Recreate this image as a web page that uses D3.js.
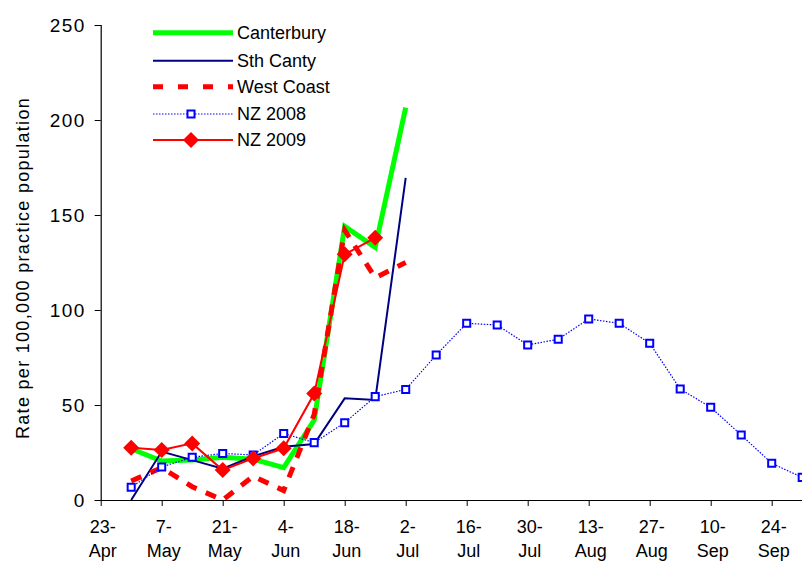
<!DOCTYPE html>
<html>
<head>
<meta charset="utf-8">
<script src="https://cdn.jsdelivr.net/npm/d3@7"></script>
<style>
  body { margin: 0; background: #fff; }
  text { font-family: "Liberation Sans", Arial, sans-serif; fill: #000; }
</style>
</head>
<body>
<div id="chart-area"></div>
<script>
// weekly dates, index 0 = 23-Apr
var weeks = ["23-Apr","30-Apr","7-May","14-May","21-May","28-May","4-Jun","11-Jun","18-Jun","25-Jun",
             "2-Jul","9-Jul","16-Jul","23-Jul","30-Jul","6-Aug","13-Aug","20-Aug","27-Aug","3-Sep",
             "10-Sep","17-Sep","24-Sep","1-Oct"];
var tickLabels = ["23-Apr","7-May","21-May","4-Jun","18-Jun","2-Jul","16-Jul","30-Jul","13-Aug","27-Aug","10-Sep","24-Sep"];
var yTicks = [0, 50, 100, 150, 200, 250];

// values start at 30-Apr
var canterbury = [27, 20.5, 21, 22.5, 21.5, 17, 42, 144, 133, 206.5];
var sthCanty   = [0, 25.5, 21, 16.5, 23, 28, 29.5, 53.5, 52.6, 169.5];
var westCoast  = [10, 17, 7, 0, 12.5, 5, 45, 142, 117, 125];
var nz2008     = [6.7, 17.4, 22.5, 24.5, 23.7, 35, 30.2, 40.7, 54.4, 58.2, 76.3, 93, 92.1, 81.6, 84.6, 95.3, 93, 82.5, 58.4, 48.8, 34.2, 19.3, 11.9];
var nz2009     = [27.5, 26.3, 29.8, 15.8, 21.9, 27.2, 56, 129.3, 138];

var margin = { left: 100.7, top: 25, right: 0, bottom: 61 };
var W = 802, H = 561;

var svg = d3.select("#chart-area")
    .append("svg")
    .attr("width", W)
    .attr("height", H);

var x = d3.scaleLinear().domain([0, 23]).range([margin.left, 802.2]);
var y = d3.scaleLinear().domain([0, 250]).range([H - margin.bottom, margin.top]);

// y axis
var yAxis = svg.append("g")
    .attr("transform", "translate(" + margin.left + ",0)")
    .call(d3.axisLeft(y).tickValues(yTicks).tickSize(6).tickPadding(9));
yAxis.select(".domain").attr("stroke", "#000").attr("stroke-width", 1.2);
yAxis.selectAll("text").style("font-size", "19px").style("letter-spacing", "1.4px").attr("dy", "0.35em");

// x axis
var xAxis = svg.append("g")
    .attr("transform", "translate(0," + y(0) + ")")
    .call(d3.axisBottom(x)
        .tickValues(tickLabels.map(function(t){ return weeks.indexOf(t); }))
        .tickSize(6)
        .tickFormat(""));
xAxis.select(".domain").attr("d", "M" + margin.left + ",0.5H" + W).attr("stroke", "#000").attr("stroke-width", 1.2);

tickLabels.forEach(function(t) {
    var parts = t.split("-");
    var cx = x(weeks.indexOf(t)) + 2;
    var lab = svg.append("text")
        .attr("text-anchor", "middle")
        .style("font-size", "18px");
    lab.append("tspan").attr("x", cx).attr("y", 533).text(parts[0] + "-");
    lab.append("tspan").attr("x", cx).attr("y", 557).text(parts[1]);
});

// y title
svg.append("text")
    .attr("transform", "translate(29,268) rotate(-90)")
    .attr("text-anchor", "middle")
    .style("font-size", "18px")
    .style("letter-spacing", "1.3px")
    .text("Rate per 100,000 practice population");

var line = d3.line()
    .x(function(d, i){ return x(i + 1); })
    .y(function(d){ return y(d); });

var series = [
    { name: "Canterbury", data: canterbury, color: "#00ff00", width: 5 },
    { name: "Sth Canty", data: sthCanty, color: "#000080", width: 2 },
    { name: "West Coast", data: westCoast, color: "#ff0000", width: 5, dash: "11,10" },
    { name: "NZ 2008", data: nz2008, color: "#0000ff", width: 1.2, dash: "1.5,1.5", marker: "square" },
    { name: "NZ 2009", data: nz2009, color: "#ff0000", width: 2, marker: "diamond" }
];

var sq = d3.symbol().type(d3.symbolSquare).size(50);
var dm = "M0,-8L8,0L0,8L-8,0Z";

series.forEach(function(s) {
    svg.append("path")
        .datum(s.data)
        .attr("d", line)
        .attr("fill", "none")
        .attr("stroke", s.color)
        .attr("stroke-width", s.width)
        .attr("stroke-dasharray", s.dash || null)
        .attr("stroke-linejoin", "miter");
    if (s.marker == "square") {
        svg.selectAll(".sq").data(s.data).enter()
            .append("path")
            .attr("d", sq)
            .attr("transform", function(d, i){ return "translate(" + x(i + 1) + "," + y(d) + ")"; })
            .attr("fill", "#fff")
            .attr("stroke", s.color)
            .attr("stroke-width", 2);
    }
    if (s.marker == "diamond") {
        svg.selectAll(".dm").data(s.data).enter()
            .append("path")
            .attr("d", dm)
            .attr("transform", function(d, i){ return "translate(" + x(i + 1) + "," + y(d) + ")"; })
            .attr("fill", s.color);
    }
});

// legend
var legY = [32.7, 60.7, 86.7, 114, 140];
series.forEach(function(s, i) {
    var g = svg.append("g").attr("transform", "translate(0," + legY[i] + ")");
    g.append("line")
        .attr("x1", 153).attr("x2", 233)
        .attr("stroke", s.color)
        .attr("stroke-width", s.width)
        .attr("stroke-dasharray", s.dash ? (s.marker ? s.dash : "10,15") : null);
    if (s.marker == "square") {
        g.append("path").attr("d", sq).attr("transform", "translate(191,0)")
            .attr("fill", "#fff").attr("stroke", s.color).attr("stroke-width", 2);
    }
    if (s.marker == "diamond") {
        g.append("path").attr("d", dm).attr("transform", "translate(191,0)").attr("fill", s.color);
    }
    g.append("text")
        .attr("x", 237)
        .attr("y", 0)
        .attr("dy", "0.35em")
        .style("font-size", "18px")
        .text(s.name);
});
</script>
</body>
</html>
